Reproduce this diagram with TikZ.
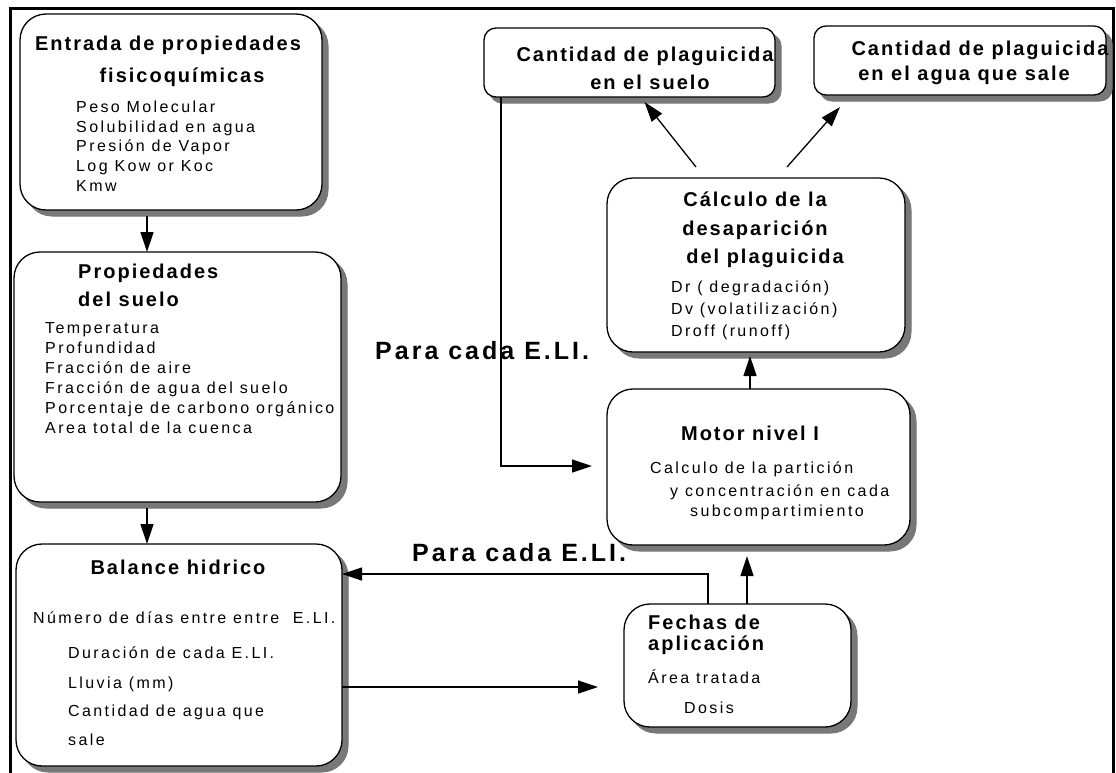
\documentclass[tikz,border=0pt]{standalone}
\usepackage{fontspec}
\setmainfont{Liberation Sans}[LetterSpace=10]
\newfontfamily\itmfont{Liberation Sans}[LetterSpace=15]
\newfontfamily\lblfont{Liberation Sans}[LetterSpace=12]
\usetikzlibrary{arrows.meta,calc}
\definecolor{shadowgray}{RGB}{120,120,120}
\begin{document}
\begin{tikzpicture}[x=1pt,y=1pt,
 box/.style={draw=black, line width=1.3pt, fill=white, rounded corners=26pt, inner sep=0pt, outer sep=0pt},
 sbox/.style={box, rounded corners=12pt},
 shadowfill/.style={fill=shadowgray, draw=shadowgray, line width=1pt},
 ttl/.style={font=\fontsize{20}{24}\selectfont\bfseries, inner sep=0pt},
 itm/.style={font=\itmfont\fontsize{16}{20}\selectfont, inner sep=0pt, align=left},
 arr/.style={line width=1.3pt, -{Triangle[length=20pt,width=13pt]}},
 lbl/.style={font=\lblfont\fontsize{25}{30}\selectfont\bfseries, inner sep=0pt}
]
\useasboundingbox (0,0) rectangle (1116,-772);
\fill[white] (0,0) rectangle (1116,-772);
\draw[line width=3pt] (10,-790) -- (10,-8) -- (1113,-8) -- (1113,-790);

% shadows (offset 6 right / 6 down)
\filldraw[shadowfill, rounded corners=26pt] (26,-20) rectangle (328,-216);
\filldraw[shadowfill, rounded corners=26pt] (20,-258) rectangle (347,-508);
\filldraw[shadowfill, rounded corners=26pt] (22,-550) rectangle (348,-772);
\filldraw[shadowfill, rounded corners=12pt] (490,-34) rectangle (781,-103);
\filldraw[shadowfill, rounded corners=12pt] (820,-32) rectangle (1112,-101);
\filldraw[shadowfill, rounded corners=26pt] (613,-184) rectangle (911,-358);
\filldraw[shadowfill, rounded corners=26pt] (613,-395) rectangle (916,-551);
\filldraw[shadowfill, rounded corners=26pt] (630,-610) rectangle (857,-733);

% boxes
\node[box, minimum width=302pt, minimum height=196pt] (entrada) at (171,-112) {};
\node[box, minimum width=327pt, minimum height=250pt] (suelo) at (177.5,-377) {};
\node[box, minimum width=326pt, minimum height=222pt] (balance) at (179,-655) {};
\node[sbox, minimum width=291pt, minimum height=69pt] (csuelo) at (629.5,-62.5) {};
\node[sbox, minimum width=292pt, minimum height=69pt] (cagua) at (960,-60.5) {};
\node[box, minimum width=298pt, minimum height=174pt] (calculo) at (756,-265) {};
\node[box, minimum width=303pt, minimum height=156pt] (motor) at (758.5,-467) {};
\node[box, minimum width=227pt, minimum height=123pt] (fechas) at (737.5,-665.5) {};

% texts: entrada
\node[ttl] (t1a) at (168,-45) {Entrada de propiedades};
\node[ttl] (t1b) at (182,-77) {fisicoquímicas};
\node[itm, anchor=west, font=\itmfont\fontsize{16}{19.75}\selectfont] (i1) at (76,-146) {Peso Molecular\\Solubilidad en agua\\Presión de Vapor\\Log Kow or Koc\\Kmw};

% suelo
\node[ttl, anchor=west] (t2a) at (78,-273) {Propiedades};
\node[ttl, anchor=west] (t2b) at (78,-299) {del suelo};
\node[itm, anchor=west] (i2) at (45,-378) {Temperatura\\Profundidad\\Fracción de aire\\Fracción de agua del suelo\\Porcentaje de carbono orgánico\\Area total de la cuenca};

% balance
\node[ttl] (t3) at (178,-567) {Balance hidrico};
\node[itm, anchor=west] (i3a) at (33,-618) {Número de días entre entre~~E.LI.};
\node[itm, anchor=west] (i3b) at (68,-653) {Duración de cada E.LI.};
\node[itm, anchor=west] (i3c) at (68,-684) {Lluvia (mm)};
\node[itm, anchor=west] (i3d) at (68,-712) {Cantidad de agua que};
\node[itm, anchor=west] (i3e) at (68,-740) {sale};

% csuelo / cagua
\node[ttl] (t4a) at (645,-56) {Cantidad de plaguicida};
\node[ttl] (t4b) at (650,-82) {en el suelo};
\node[ttl] (t5a) at (980,-50) {Cantidad de plaguicida};
\node[ttl] (t5b) at (964,-75) {en el agua que sale};

% calculo
\node[ttl] (t6a) at (755,-199) {Cálculo de la};
\node[ttl] (t6b) at (755,-230) {desaparición};
\node[ttl] (t6c) at (765,-258) {del plaguicida};
\node[itm, anchor=west, font=\itmfont\fontsize{16}{22}\selectfont] (i6) at (671,-310) {Dr ( degradación)\\Dv (volatilización)\\Droff (runoff)};

% motor
\node[ttl] (t7) at (750,-433) {Motor nivel I};
\node[itm, anchor=west] (i7a) at (650,-469) {Calculo de la partición};
\node[itm, anchor=west] (i7b) at (670,-492) {y concentración en cada};
\node[itm, anchor=west] (i7c) at (690,-512) {subcompartimiento};

% fechas
\node[ttl, anchor=west] (t8a) at (648,-622) {Fechas de};
\node[ttl, anchor=west] (t8b) at (648,-645) {aplicación};
\node[itm, anchor=west] (i8a) at (648,-677) {Área tratada};
\node[itm, anchor=west] (i8b) at (684,-708) {Dosis};

% labels
\node[lbl, anchor=west] (l1) at (375,-351) {Para cada E.LI.};
\node[lbl, anchor=west] (l2) at (412,-553) {Para cada E.LI.};

% connectors
\draw[arr] ($(entrada.south)+(-24,-6)$) -- ($(suelo.north)+(-30.5,0)$);
\draw[arr] ($(suelo.south)+(-30.5,-6)$) -- ($(balance.north)+(-32,0)$);
\draw[arr] ($(motor.north)+(-8.5,0)$) -- ($(calculo.south)+(-6,-4)$);
\draw[arr] ($(fechas.north)+(9.5,0)$) -- ($(motor.south)+(-11.5,-11)$);
\draw[arr] ($(fechas.north)+(-29.5,0)$) |- ($(balance.north east)+(0,-30)$);
\draw[arr] ($(balance.east)+(0,-32)$) -- ($(fechas.west)+(-26,-21.5)$);
\draw[arr] ($(csuelo.south west)+(17,0)$) |- ($(motor.west)+(-15,1)$);
\draw[arr] ($(calculo.north)+(-60,11)$) -- ($(csuelo.south)+(15,-5)$);
\draw[arr] ($(calculo.north)+(31,11)$) -- ($(cagua.south)+(-120,-12)$);
\end{tikzpicture}
\end{document}
